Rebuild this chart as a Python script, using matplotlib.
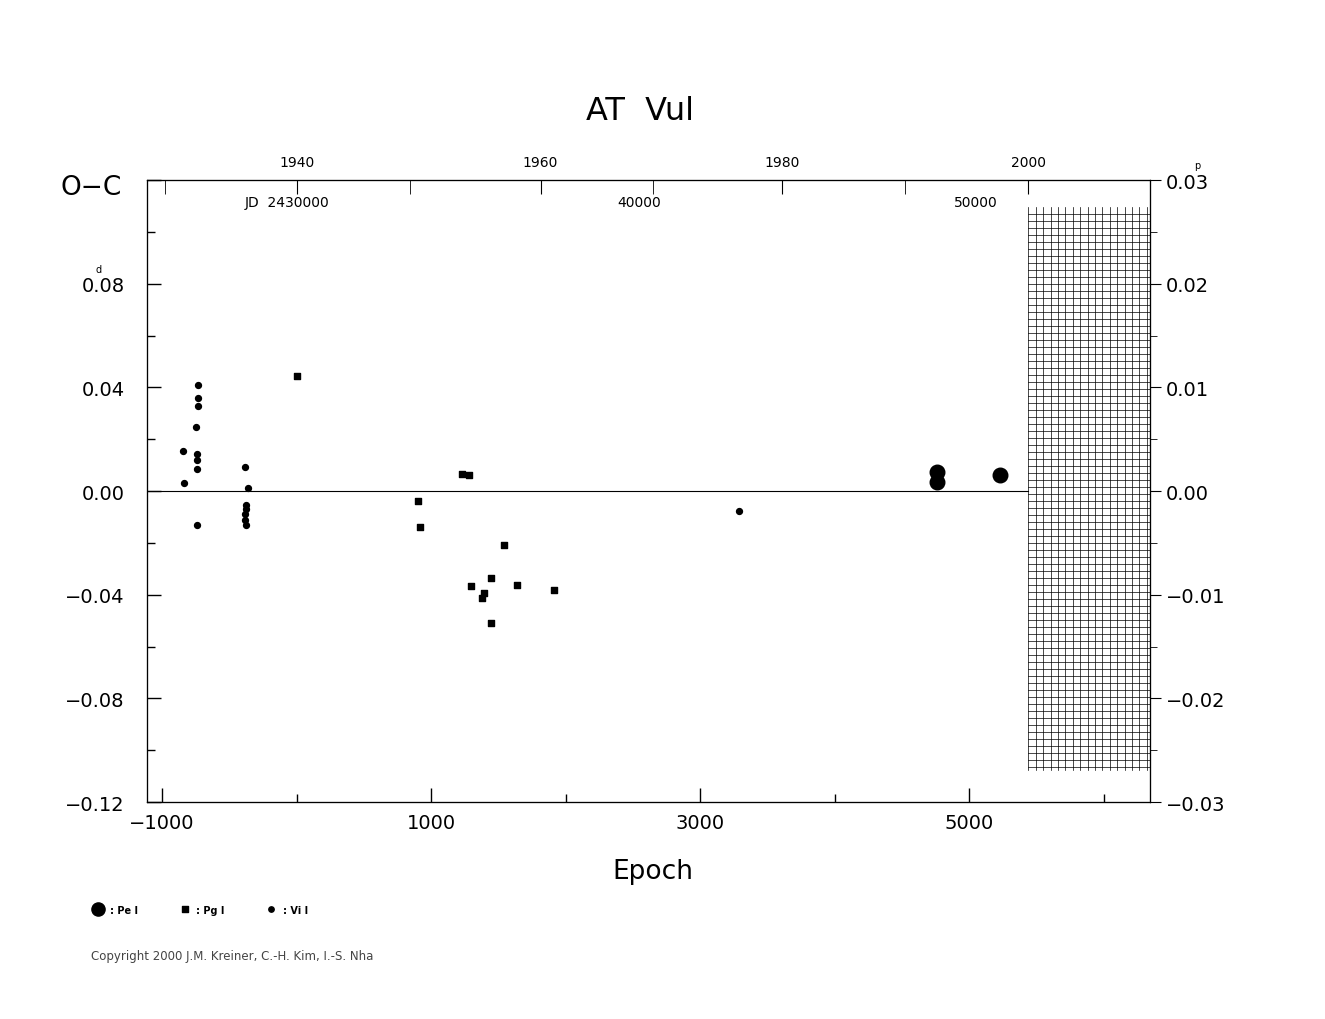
import numpy as np
import matplotlib
matplotlib.use("Agg")
import matplotlib.pyplot as plt

vi_e = [-844, -836, -732, -732, -732, -747, -740, -740, -740, -740, -383, -361, -375, -375, -383, -383, -375, 3290]
vi_oc = [0.0155, 0.003, 0.041, 0.036, 0.033, 0.0247, 0.0143, 0.012, 0.0085, -0.013, 0.0093, 0.001, -0.0054, -0.007, -0.0089, -0.0112, -0.013, -0.0077]
pg_e = [4, 903, 918, 1230, 1283, 1297, 1379, 1394, 1446, 1446, 1543, 1639, 1914]
pg_oc = [0.0444, -0.0039, -0.0139, 0.0066, 0.0062, -0.0367, -0.0413, -0.0394, -0.0336, -0.051, -0.0209, -0.0363, -0.0383]
pe_e = [4762, 4762, 5230]
pe_oc = [0.0073, 0.0035, 0.0062]

year_ticks = [1940, 1960, 1980, 2000]
year_epoch = {1930: -981, 1940: 1.0, 1950: 845, 1960: 1814, 1970: 2650, 1980: 3606, 1990: 4524, 2000: 5439}
jd_labels = ["JD  2430000", "40000", "50000"]
jd_epoch = [-70, 2547, 5052]

fig = plt.figure(figsize=(13.25, 10.2), dpi=100)
ax = fig.add_axes([0.111, 0.2127, 0.757, 0.6098])
xmin, xmax = -1111, 6344
ax.set_xlim(xmin, xmax)
ax.set_ylim(-0.12, 0.12)
ax.axhline(0, color='black', lw=0.8, xmax=(5439 - xmin) / (xmax - xmin))

ax.scatter(vi_e, vi_oc, s=18, c='black', marker='o', zorder=3)
ax.scatter(pg_e, pg_oc, s=25, c='black', marker='s', zorder=3)
ax.scatter(pe_e, pe_oc, s=110, c='black', marker='o', zorder=3)

# hatched region
hx0, hx1, hy0, hy1 = 5439, xmax, -0.1065, 0.1085
for x in np.arange(hx0, hx1, 55):
    ax.plot([x, x], [hy0 - 0.001, hy1 + 0.001], color='black', lw=0.5)
for y in np.arange(hy0, hy1, 0.0027):
    ax.plot([hx0, hx1], [y, y], color='black', lw=0.5)

ax.set_xticks([-1000, 1000, 3000, 5000])
ax.set_xticks(np.arange(-1000, 6001, 1000), minor=True)
ax.set_yticks(np.arange(-0.12, 0.121, 0.04))
ax.set_yticklabels(["\u22120.12", "\u22120.08", "\u22120.04", "0.00", "0.04", "0.08", ""])
ax.set_yticks(np.arange(-0.12, 0.121, 0.02), minor=True)
ax.tick_params(axis='both', which='major', direction='in', length=10, labelsize=14, width=1)
ax.tick_params(axis='both', which='minor', direction='in', length=6, width=1)
ax.tick_params(axis='x', pad=8)
ax.tick_params(axis='y', pad=16)
ax.set_xticklabels(["\u22121000", "1000", "3000", "5000"])

ax2 = ax.twinx()
ax2.set_ylim(-0.03, 0.03)
ax2.set_yticks([-0.03, -0.02, -0.01, 0.0, 0.01, 0.02, 0.03])
ax2.set_yticklabels(["\u22120.03", "\u22120.02", "\u22120.01", "0.00", "0.01", "0.02", "0.03"])
ax2.set_yticks(np.arange(-0.03, 0.031, 0.005), minor=True)
ax2.tick_params(axis='y', which='major', direction='out', length=8, labelsize=14)
ax2.tick_params(axis='y', which='minor', direction='out', length=5)

ax3 = ax.twiny()
ax3.set_xlim(xmin, xmax)
ax3.set_xticks([year_epoch[y] for y in year_ticks])
ax3.set_xticklabels([str(y) for y in year_ticks])
ax3.set_xticks([year_epoch[y] for y in [1930, 1950, 1970, 1990]], minor=True)
ax3.tick_params(axis='x', which='major', direction='in', length=10, labelsize=10, pad=8)
ax3.tick_params(axis='x', which='minor', direction='in', length=10)
for lab, e in zip(jd_labels, jd_epoch):
    ax.text(e, 0.1115, lab, ha='center', va='center', fontsize=10)

lax = fig.add_axes([0, 0, 1, 1], facecolor='none')
lax.set_xlim(0, 1325); lax.set_ylim(1020, 0); lax.axis('off')
lax.text(99, 270, "d", fontsize=7, ha='center', va='center')
lax.text(1197, 166, "p", fontsize=7, ha='center', va='center')
lax.text(60, 188, "O\u2212C", fontsize=19, va='center')
lax.text(640, 112, "AT  Vul", fontsize=23, ha='center', va='center')
lax.text(653, 872, "Epoch", fontsize=19, ha='center', va='center')
lax.scatter([98], [910], s=90, c='black')
lax.text(110, 911, ": Pe I", fontsize=7, va='center', weight='bold')
lax.scatter([185], [910], s=25, c='black', marker='s')
lax.text(196, 911, ": Pg I", fontsize=7, va='center', weight='bold')
lax.scatter([271], [910], s=15, c='black')
lax.text(283, 911, ": Vi I", fontsize=7, va='center', weight='bold')
lax.text(91, 957, "Copyright 2000 J.M. Kreiner, C.-H. Kim, I.-S. Nha", fontsize=8.5, va='center', color='#444444')

fig.savefig("out.png", dpi=100)
